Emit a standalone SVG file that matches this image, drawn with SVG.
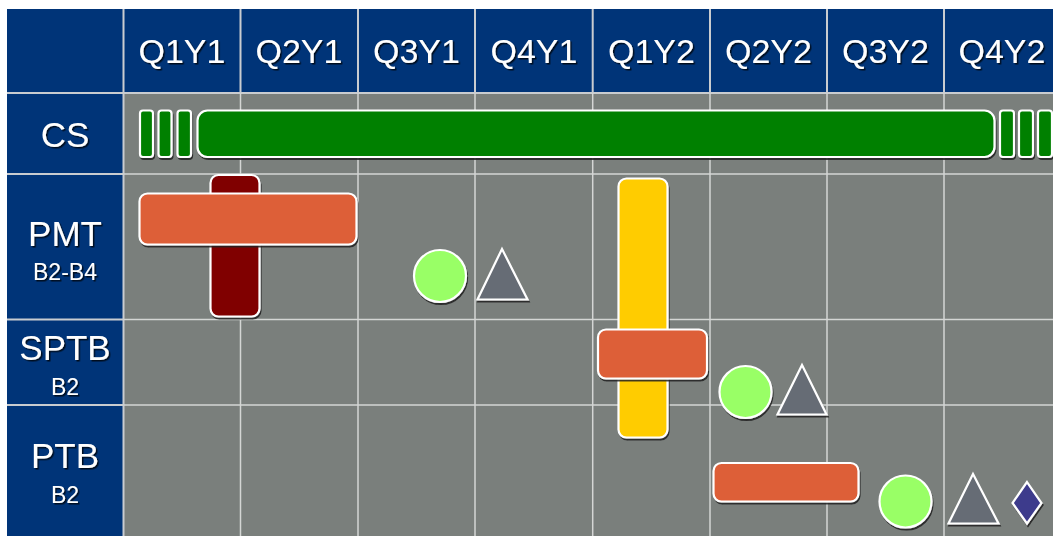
<svg xmlns="http://www.w3.org/2000/svg" width="1053" height="536" viewBox="0 0 1053 536">
<defs>
<filter id="ts" x="-10%" y="-10%" width="130%" height="140%"><feDropShadow dx="1.5" dy="1.5" stdDeviation="0.4" flood-color="#000" flood-opacity="0.75"/></filter>
<filter id="sh" x="-10%" y="-10%" width="130%" height="130%"><feDropShadow dx="1" dy="2" stdDeviation="0.5" flood-color="#1a1a1a" flood-opacity="0.85"/></filter>
<style>
.hd{fill:#003478}
.gr{fill:#7a7f7c}
.ln{stroke:#d4d6d4;stroke-width:1.5;fill:none}
.lb{stroke:#c9ccd0;stroke-width:2;fill:none}
text{font-family:"Liberation Sans",Arial,sans-serif;fill:#fff;text-anchor:middle;filter:url(#ts)}
.q{font-size:34px}
.big{font-size:35px}
.sm{font-size:23px}
.s{stroke:#fff;stroke-width:2.2;filter:url(#sh)}
.green{fill:#008000}
.red{fill:#800000}
.orange{fill:#dd5f38}
.yellow{fill:#ffcc00}
.lime{fill:#99ff66}
.tri{fill:#666c74}
.dia{fill:#3d3a8c}
</style>
</defs>
<rect x="0" y="0" width="1053" height="536" fill="#fff"/>
<g id="table">
<rect class="hd" x="7" y="9" width="1046" height="84"/>
<rect class="hd" x="7" y="93" width="116.5" height="443"/>
<rect class="gr" x="123.5" y="93" width="929.5" height="443"/>
<g class="lb">
<line x1="7" y1="93" x2="1053" y2="93"/>
<line x1="123.5" y1="9" x2="123.5" y2="536"/>
<line x1="7" y1="174" x2="123.5" y2="174"/>
<line x1="7" y1="319.5" x2="123.5" y2="319.5"/>
<line x1="7" y1="405" x2="123.5" y2="405"/>
<line x1="240.5" y1="9" x2="240.5" y2="93"/>
<line x1="358" y1="9" x2="358" y2="93"/>
<line x1="475" y1="9" x2="475" y2="93"/>
<line x1="592.7" y1="9" x2="592.7" y2="93"/>
<line x1="710" y1="9" x2="710" y2="93"/>
<line x1="827" y1="9" x2="827" y2="93"/>
<line x1="944" y1="9" x2="944" y2="93"/>
</g>
<g class="ln">
<line x1="123.5" y1="174" x2="1053" y2="174"/>
<line x1="123.5" y1="319.5" x2="1053" y2="319.5"/>
<line x1="123.5" y1="405" x2="1053" y2="405"/>
<line x1="240.5" y1="93" x2="240.5" y2="536"/>
<line x1="358" y1="93" x2="358" y2="536"/>
<line x1="475" y1="93" x2="475" y2="536"/>
<line x1="592.7" y1="93" x2="592.7" y2="536"/>
<line x1="710" y1="93" x2="710" y2="536"/>
<line x1="827" y1="93" x2="827" y2="536"/>
<line x1="944" y1="93" x2="944" y2="536"/>
</g>
</g>
<g id="header-labels">
<text class="q" x="182" y="63">Q1Y1</text>
<text class="q" x="299" y="63">Q2Y1</text>
<text class="q" x="416.5" y="63">Q3Y1</text>
<text class="q" x="534" y="63">Q4Y1</text>
<text class="q" x="651.5" y="63">Q1Y2</text>
<text class="q" x="768.5" y="63">Q2Y2</text>
<text class="q" x="885.5" y="63">Q3Y2</text>
<text class="q" x="1002" y="63">Q4Y2</text>
</g>
<g id="row-labels">
<text class="big" x="65" y="147">CS</text>
<text class="big" x="65" y="246">PMT</text>
<text class="sm" x="65" y="280">B2-B4</text>
<text class="big" x="65" y="360">SPTB</text>
<text class="sm" x="65" y="395">B2</text>
<text class="big" x="65" y="468">PTB</text>
<text class="sm" x="65" y="503">B2</text>
</g>
<g id="cs-bars">
<rect class="s green" x="140" y="110.5" width="13" height="46.5" rx="3"/>
<rect class="s green" x="158.5" y="110.5" width="13" height="46.5" rx="3"/>
<rect class="s green" x="177.5" y="110.5" width="13.5" height="46.5" rx="3"/>
<rect class="s green" x="197.5" y="110.5" width="797" height="46.5" rx="10"/>
<rect class="s green" x="1000" y="110.5" width="14" height="46.5" rx="3"/>
<rect class="s green" x="1019" y="110.5" width="14" height="46.5" rx="3"/>
<rect class="s green" x="1038" y="110.5" width="14" height="46.5" rx="3"/>
</g>
<g id="pmt">
<rect class="s red" x="210.5" y="175" width="49" height="141.5" rx="8"/>
<rect class="s orange" x="139.5" y="193.5" width="217" height="51" rx="8"/>
<circle class="s lime" cx="440" cy="276" r="26"/>
<polygon class="s tri" points="502,249 477.5,299.5 527.5,299.5"/>
</g>
<g id="yellow-bar">
<rect class="s yellow" x="618.5" y="178.5" width="49" height="259" rx="8"/>
</g>
<g id="sptb">
<rect class="s orange" x="598" y="329.5" width="109" height="49" rx="8"/>
<circle class="s lime" cx="745.5" cy="392" r="26"/>
<polygon class="s tri" points="802,365 777.5,414.5 826.5,414.5"/>
</g>
<g id="ptb">
<rect class="s orange" x="713.5" y="463" width="145" height="38.5" rx="8"/>
<circle class="s lime" cx="905.5" cy="501.5" r="26"/>
<polygon class="s tri" points="973,474 948.5,523.5 998.5,523.5"/>
<polygon class="s dia" points="1027,482 1041.5,503 1027,523.5 1012.5,503"/>
</g>
<g id="connectors"/>
</svg>
